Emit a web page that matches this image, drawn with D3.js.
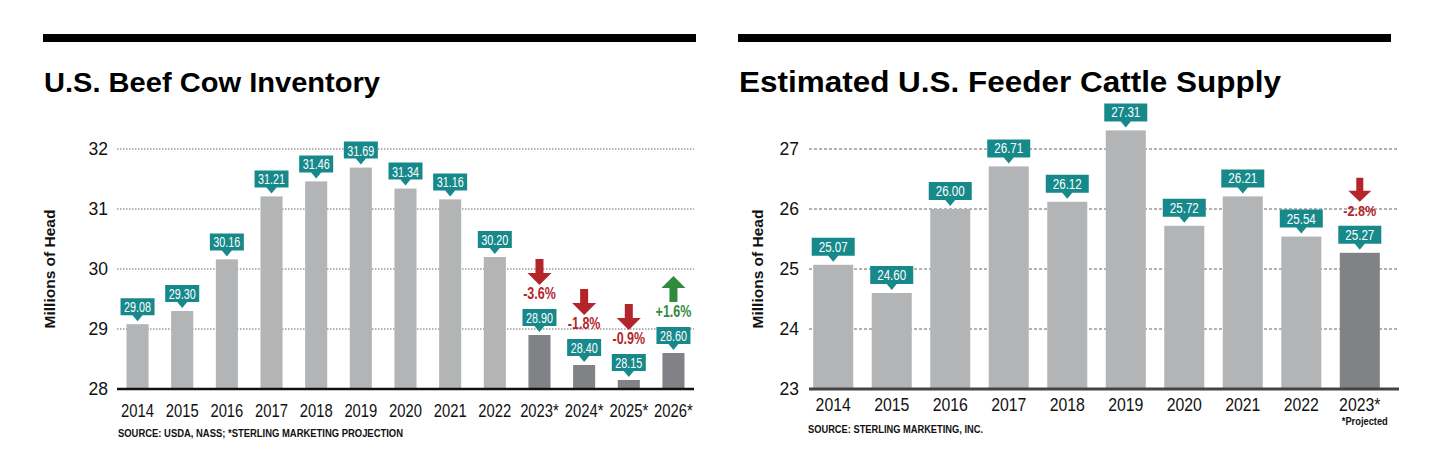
<!DOCTYPE html>
<html>
<head>
<meta charset="utf-8">
<script src="https://cdn.jsdelivr.net/npm/d3@7.9.0/dist/d3.min.js"></script>
<style>
  body { margin: 0; background: #fff; }
  svg { display: block; font-family: "Liberation Sans", Arial, sans-serif; }
</style>
</head>
<body>
<div id="chart"></div>
<script>
// --- data: U.S. beef cow inventory (millions of head)
const cowYears = ["2014", "2015", "2016", "2017", "2018", "2019", "2020", "2021", "2022", "2023*", "2024*", "2025*", "2026*"];
const cowValues = [29.08, 29.30, 30.16, 31.21, 31.46, 31.69, 31.34, 31.16, 30.20, 28.90, 28.40, 28.15, 28.60];
const cowProjected = [false, false, false, false, false, false, false, false, false, true, true, true, true];
const cowChanges = [null, null, null, null, null, null, null, null, null, -3.6, -1.8, -0.9, 1.6];
const cowTicks = [28, 29, 30, 31, 32];

// --- data: estimated U.S. feeder cattle supply (millions of head)
const feederYears = ["2014", "2015", "2016", "2017", "2018", "2019", "2020", "2021", "2022", "2023*"];
const feederValues = [25.07, 24.60, 26.00, 26.71, 26.12, 27.31, 25.72, 26.21, 25.54, 25.27];
const feederProjected = [false, false, false, false, false, false, false, false, false, true];
const feederChanges = [null, null, null, null, null, null, null, null, null, -2.8];
const feederTicks = [23, 24, 25, 26, 27];

const TEAL = "#17898a";
const RED = "#b3242b";
const GREEN = "#2f8b3d";

const svg = d3.select("#chart")
    .append("svg")
    .attr("width", 1440)
    .attr("height", 471);

// squeezed text, the original uses a condensed face
function squeezed(g, x, y, str, size, sx, opts = {}) {
    return g.append("text")
        .attr("transform", `translate(${x},${y}) scale(${sx},1)`)
        .attr("text-anchor", opts.anchor || "middle")
        .attr("font-size", size)
        .attr("font-weight", opts.weight || "normal")
        .attr("fill", opts.fill || "#111")
        .text(str);
}

function arrowPath(cx, tipY, up, s) {
    // s: {len, head, headW, shaftW}
    const d = up ? 1 : -1;   // direction of the tail from the tip
    const base = tipY + d * s.head;
    const tail = tipY + d * s.len;
    return `M${cx - s.shaftW},${tail} L${cx + s.shaftW},${tail} L${cx + s.shaftW},${base} ` +
        `L${cx + s.headW},${base} L${cx},${tipY} L${cx - s.headW},${base} L${cx - s.shaftW},${base} Z`;
}

function drawPanel(cfg) {
    const g = svg.append("g");

    // heavy rule on top
    g.append("rect")
        .attr("x", cfg.ruleX[0])
        .attr("y", 34)
        .attr("width", cfg.ruleX[1] - cfg.ruleX[0])
        .attr("height", 8)
        .attr("fill", "#000");

    // title
    g.append("text")
        .attr("x", cfg.ruleX[0] + 1)
        .attr("y", 92)
        .attr("font-size", cfg.titleSize)
        .attr("font-weight", "bold")
        .attr("textLength", cfg.titleLen)
        .attr("lengthAdjust", "spacingAndGlyphs")
        .attr("fill", "#000")
        .text(cfg.title);

    const x = d3.scaleBand()
        .domain(cfg.years)
        .range(cfg.xRange)
        .paddingInner(cfg.padIn)
        .paddingOuter(cfg.padOut)
        .align(cfg.align);

    const y = d3.scaleLinear()
        .domain(d3.extent(cfg.ticks))
        .range([389, 149]);

    // y axis label
    g.append("text")
        .attr("transform", `translate(${cfg.yLabelX},269) rotate(-90)`)
        .attr("text-anchor", "middle")
        .attr("dy", "0.35em")
        .attr("font-size", 15.5)
        .attr("font-weight", "bold")
        .attr("fill", "#111")
        .text("Millions of Head");

    // dotted grid + tick labels
    g.selectAll(".grid")
        .data(cfg.ticks.slice(1))
        .join("line")
        .attr("class", "grid")
        .attr("x1", cfg.xRange[0])
        .attr("x2", cfg.xRange[1])
        .attr("y1", d => y(d))
        .attr("y2", d => y(d))
        .attr("stroke", "#666")
        .attr("stroke-width", 1)
        .attr("stroke-dasharray", cfg.dash);

    g.selectAll(".tick")
        .data(cfg.ticks)
        .join("text")
        .attr("class", "tick")
        .attr("x", cfg.tickX)
        .attr("y", d => y(d))
        .attr("dy", "0.35em")
        .attr("text-anchor", "end")
        .attr("font-size", 17.5)
        .attr("fill", "#111")
        .text(d => d);

    // bars
    const rows = cfg.years.map((yr, i) => ({
        year: yr,
        value: cfg.values[i],
        projected: cfg.projected[i],
        change: cfg.changes[i]
    }));

    g.selectAll(".bar")
        .data(rows)
        .join("rect")
        .attr("class", "bar")
        .attr("x", d => x(d.year))
        .attr("y", d => y(d.value))
        .attr("width", x.bandwidth())
        .attr("height", d => y(cfg.ticks[0]) - y(d.value))
        .attr("fill", d => d.projected ? "#818285" : "#b3b4b6");

    // baseline
    g.append("line")
        .attr("x1", cfg.xRange[0])
        .attr("x2", cfg.xRange[1])
        .attr("y1", y(cfg.ticks[0]))
        .attr("y2", y(cfg.ticks[0]))
        .attr("stroke", cfg.baseColor)
        .attr("stroke-width", cfg.baseWidth);

    // year labels
    rows.forEach(d => {
        squeezed(g, x(d.year) + x.bandwidth() / 2, cfg.yearY, d.year, cfg.yearSize, cfg.yearSx);
    });

    // teal value callouts
    const bw = cfg.boxW, bh = cfg.boxH;
    rows.forEach(d => {
        const cx = x(d.year) + x.bandwidth() / 2;
        const tip = y(d.value) - 3;
        const bottom = tip - 6;
        const top = bottom - bh;
        g.append("path")
            .attr("d", `M${cx - bw / 2},${top} H${cx + bw / 2} V${bottom} H${cx + 5} L${cx},${tip} L${cx - 5},${bottom} H${cx - bw / 2} Z`)
            .attr("fill", TEAL);
        squeezed(g, cx, top + bh / 2 + cfg.boxFont * 0.36, d.value.toFixed(2), cfg.boxFont, cfg.boxSx, { fill: "#fff" });

        if (d.change != null) {
            const up = d.change > 0;
            const col = up ? GREEN : RED;
            const base = top - 10;
            const label = (up ? "+" : "") + d.change.toFixed(1) + "%";
            squeezed(g, cx, base, label, cfg.pctSize, cfg.pctSx, { fill: col, weight: "bold" });
            const s = cfg.arrow;
            const tipY = up ? base - 15 - s.len : base - 14;
            g.append("path")
                .attr("d", arrowPath(cx, tipY, up, s))
                .attr("fill", col);
        }
    });

    // source line
    g.append("text")
        .attr("x", cfg.sourceX)
        .attr("y", cfg.sourceY)
        .attr("font-size", 11)
        .attr("font-weight", "bold")
        .attr("textLength", cfg.sourceLen)
        .attr("lengthAdjust", "spacingAndGlyphs")
        .attr("fill", "#111")
        .text(cfg.source);

    if (cfg.note) {
        const last = cfg.years[cfg.years.length - 1];
        g.append("text")
            .attr("x", x(last) + x.bandwidth() / 2 + 5)
            .attr("y", 425)
            .attr("text-anchor", "middle")
            .attr("font-size", 11)
            .attr("font-weight", "bold")
            .attr("textLength", 46)
            .attr("lengthAdjust", "spacingAndGlyphs")
            .attr("fill", "#111")
            .text(cfg.note);
    }
}

drawPanel({
    title: "U.S. Beef Cow Inventory",
    titleSize: 28,
    titleLen: 336,
    ruleX: [43, 696],
    years: cowYears,
    values: cowValues,
    projected: cowProjected,
    changes: cowChanges,
    ticks: cowTicks,
    xRange: [117, 694],
    padIn: 0.506,
    padOut: 0.213,
    align: 0.5,
    yLabelX: 50,
    tickX: 108,
    dash: "1.5,1.5",
    baseColor: "#111",
    baseWidth: 2.5,
    yearY: 417,
    yearSize: 18.5,
    yearSx: 0.8,
    boxW: 34,
    boxH: 17,
    boxFont: 15,
    boxSx: 0.72,
    pctSize: 16,
    pctSx: 0.78,
    arrow: { len: 26, head: 12, headW: 12, shaftW: 4 },
    source: "SOURCE: USDA, NASS; *STERLING MARKETING PROJECTION",
    sourceX: 118,
    sourceY: 437,
    sourceLen: 285
});

drawPanel({
    title: "Estimated U.S. Feeder Cattle Supply",
    titleSize: 29,
    titleLen: 542,
    ruleX: [738, 1391],
    years: feederYears,
    values: feederValues,
    projected: feederProjected,
    changes: feederChanges,
    ticks: feederTicks,
    xRange: [809, 1399],
    padIn: 0.316,
    padOut: 0.2,
    align: 0.18,
    yLabelX: 758,
    tickX: 799,
    dash: "3,2",
    baseColor: "#444",
    baseWidth: 3,
    yearY: 411,
    yearSize: 18,
    yearSx: 0.88,
    boxW: 43,
    boxH: 18,
    boxFont: 14,
    boxSx: 0.83,
    pctSize: 14,
    pctSx: 0.9,
    arrow: { len: 24, head: 11, headW: 11.5, shaftW: 3.5 },
    source: "SOURCE: STERLING MARKETING, INC.",
    sourceX: 808,
    sourceY: 433,
    sourceLen: 175,
    note: "*Projected"
});
</script>
</body>
</html>
